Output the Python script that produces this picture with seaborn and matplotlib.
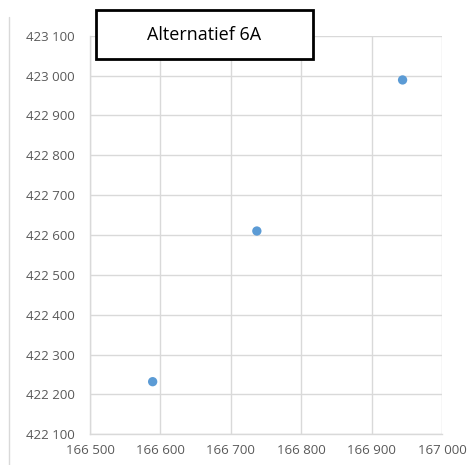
import matplotlib
matplotlib.use("Agg")
import matplotlib.pyplot as plt
import seaborn as sns
import pandas as pd
from matplotlib.ticker import FuncFormatter, MultipleLocator
from matplotlib.patches import Rectangle
from matplotlib.lines import Line2D

# Coordinates of the three points (RD x / y)
x_vals = [166589, 166737, 166944]
y_vals = [422232, 422610, 422989]
title = "Alternatief 6A"

df = pd.DataFrame({"x": x_vals, "y": y_vals})

sns.set_style("white")
plt.rcParams["font.family"] = ["Open Sans", "DejaVu Sans"]

fig = plt.figure(figsize=(4.74, 4.65), dpi=100)
W, H = 474, 465
ax = fig.add_axes([90 / W, 1 - 434.3 / H, (442 - 90) / W, (434.3 - 35.7) / H])

sns.scatterplot(data=df, x="x", y="y", ax=ax, s=45, color="#5b9bd5",
                edgecolor="none", zorder=3)

ax.set_xlim(166500, 167000)
ax.set_ylim(422100, 423100)
ax.xaxis.set_major_locator(MultipleLocator(100))
ax.yaxis.set_major_locator(MultipleLocator(100))

fmt = FuncFormatter(lambda v, p: f"{int(round(v)):,}".replace(",", " "))
ax.xaxis.set_major_formatter(fmt)
ax.yaxis.set_major_formatter(fmt)

ax.grid(True, color="#d9d9d9", linewidth=1)
ax.set_axisbelow(True)
for side in ["top", "right"]:
    ax.spines[side].set_visible(False)
for side in ["left", "bottom"]:
    ax.spines[side].set_color("#d9d9d9")
    ax.spines[side].set_linewidth(1)

ax.tick_params(axis="both", length=0, labelsize=9.5, labelcolor="#595959")
ax.tick_params(axis="x", pad=7)
ax.tick_params(axis="y", pad=11)
ax.set_xlabel("")
ax.set_ylabel("")

# Thin border line on the left edge of the chart area
fig.add_artist(Line2D([9 / W, 9 / W], [0, 1 - 17 / H], transform=fig.transFigure,
                      color="#d9d9d9", linewidth=1))

# Title box
fig.add_artist(Rectangle((96 / W, 1 - 59 / H), (313 - 96) / W, (59 - 10) / H,
                         transform=fig.transFigure, facecolor="white",
                         edgecolor="black", linewidth=2, zorder=5))
fig.text((96 + 313) / 2 / W, 1 - 35 / H, title, ha="center", va="center",
         fontsize=13, color="black", zorder=6)

fig.savefig("out.png", dpi=100)
